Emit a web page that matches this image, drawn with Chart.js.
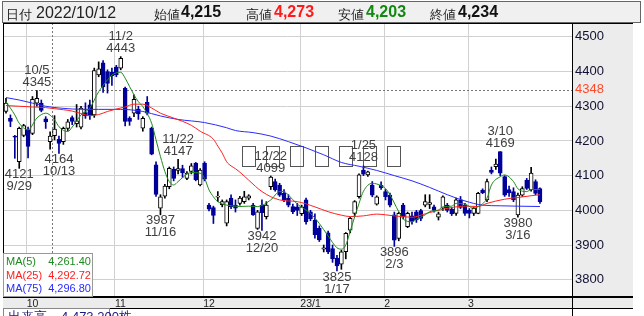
<!DOCTYPE html>
<html><head><meta charset="utf-8">
<script src="https://cdn.jsdelivr.net/npm/chart.js@4.4.0/dist/chart.umd.min.js"></script>
<style>
html,body{margin:0;padding:0;background:#fff;}
#wrap{position:relative;width:644px;height:316px;overflow:hidden;font-family:'Liberation Sans',Arial,sans-serif;}
#c{position:absolute;left:0;top:0;}
#hdr{position:absolute;left:2px;top:1px;width:637px;height:20px;border:1px solid #666;background:#f0f0f0;}
#hdr span{position:absolute;white-space:nowrap;}
.lab{top:4px;font-size:13px;color:#222;}
.dt{top:2px;font-size:16px;color:#222;}
.val{top:1px;font-size:16px;font-weight:bold;color:#111;}
#leg{position:absolute;left:3px;top:253px;width:88px;height:42px;background:#fff;border:1px solid #999;font-size:11px;}
#leg div{position:absolute;left:2px;right:1px;height:13px;line-height:13px;}
#leg .v{position:absolute;right:0;}
#vol{position:absolute;left:3px;top:308px;width:105px;height:14px;border:1px solid #888;background:#fff;font-size:13px;color:#1a1a7a;line-height:16px;white-space:nowrap;}
</style></head>
<body><div id="wrap">
<canvas id="c" width="644" height="316"></canvas>
<div id="hdr"></div>
<div id="leg"></div>
<div id="vol"></div>
</div>
<script>
const dates = ['9/26','9/27','9/28','9/29','9/30',
'10/3','10/4','10/5','10/6','10/7','10/11','10/12','10/13','10/14','10/17','10/18','10/19','10/20','10/21','10/24','10/25','10/26','10/27','10/28','10/31',
'11/1','11/2','11/4','11/7','11/8','11/9','11/10','11/11','11/14','11/15','11/16','11/17','11/18','11/21','11/22','11/24','11/25','11/28','11/29','11/30',
'12/1','12/2','12/5','12/6','12/7','12/8','12/9','12/12','12/13','12/14','12/15','12/16','12/19','12/20','12/21','12/22','12/23','12/26','12/27','12/28','12/29','12/30',
'1/4','1/5','1/6','1/10','1/11','1/12','1/13','1/16','1/17','1/18','1/19','1/20','1/23','1/24','1/25','1/26','1/27','1/30','1/31',
'2/1','2/2','2/3','2/6','2/7','2/8','2/9','2/10','2/13','2/14','2/15','2/16','2/17','2/20','2/21','2/22','2/24','2/27','2/28',
'3/1','3/2','3/3','3/6','3/7','3/8','3/9','3/10','3/13','3/14','3/15','3/16','3/17','3/20','3/22','3/23','3/24'];

const open  = [4285,4265,4212,4140,4216,4232,4222,4309,4309,4264,4198,4215,4205,4198,4236,4267,4250,4240,4282,4304,4275,4390,4425,4400,4398,
4413,4410,4352,4266,4280,4292,4237,4311,4237,4131,4006,4041,4068,4118,4115,4120,4092,4112,4136,4073,
4136,4015,4008,4038,4016,3963,4035,4015,4020,4025,4035,4015,3948,4015,3982,4068,4083,4073,4049,4035,4011,4010,
3990,4030,3996,3972,3948,3888,3935,3890,3862,3845,3881,3943,3991,4039,4116,4102,4073,4018,4072,
4054,4044,3987,3919,4015,3953,3984,3996,3999,4015,4017,4010,3980,4006,4015,4003,3991,4030,4015,
4000,3991,3991,4058,4030,4116,4126,4169,4097,4060,4054,3987,4044,4087,4059,4083,4063];
const high  = [4323,4275,4216,4240,4248,4240,4328,4345,4318,4270,4226,4273,4214,4240,4262,4272,4305,4300,4310,4318,4410,4428,4432,4405,4410,
4418,4443,4355,4270,4333,4300,4270,4328,4240,4140,4045,4075,4125,4125,4147,4130,4112,4135,4138,4120,
4140,4020,4012,4054,4030,4030,4045,4030,4040,4055,4045,4020,4000,4030,4025,4099,4090,4078,4060,4045,4018,4020,
4015,4035,4000,3990,3955,3900,3940,3900,3870,3885,3936,3980,4028,4105,4128,4113,4083,4042,4082,
4060,4050,3995,3995,4020,3995,3995,4000,4003,4045,4045,4015,3995,4042,4020,4008,4035,4040,4020,
4005,4008,4052,4062,4090,4125,4148,4169,4100,4070,4065,4050,4068,4092,4124,4088,4065];
const low   = [4280,4241,4150,4121,4212,4151,4218,4300,4284,4236,4176,4203,4164,4190,4230,4247,4240,4235,4265,4262,4268,4385,4340,4338,4360,
4385,4405,4243,4245,4270,4262,4228,4275,4160,4040,3987,4035,4062,4085,4105,4095,4088,4105,4085,4070,
4085,3998,3962,4025,4010,3955,4005,3995,4015,4020,4030,3985,3945,3942,3975,4060,4055,4040,4025,4010,3990,3985,
3985,3960,3970,3920,3910,3880,3875,3850,3825,3830,3860,3935,3985,4035,4100,4098,4039,4015,4060,
4030,4010,3896,3912,3975,3950,3960,3965,3970,4010,4005,3995,3972,4000,3995,3985,3985,4005,3985,
3978,3985,3990,4048,4025,4105,4118,4100,4040,4040,4025,3980,4040,4060,4055,4045,4020];
const close = [4309,4256,4211,4236,4244,4184,4320,4323,4288,4255,4214,4234,4193,4236,4255,4256,4258,4295,4272,4272,4403,4408,4356,4366,4388,
4390,4438,4256,4256,4320,4278,4265,4280,4162,4046,4039,4070,4121,4092,4120,4108,4107,4128,4088,4116,
4090,4003,3985,4040,4025,4025,4010,4006,4035,4039,4042,3987,3996,3993,4015,4096,4059,4044,4030,4015,3996,4000,
4010,3967,3975,3930,3915,3892,3880,3860,3840,3880,3934,3977,4025,4102,4104,4111,4044,4039,4065,
4039,4015,3914,3991,3982,3991,3968,3972,3977,4025,4022,4000,3990,4039,4000,3990,4030,4008,3991,
3991,4006,4049,4051,4083,4109,4133,4107,4044,4050,4030,4044,4063,4063,4107,4049,4025];

// moving averages at the listed candle indices
const ma5Idx = [0,2,3,5,7,9,11,12,14,15,17,19,21,23,24,26,27,28,29,30,31,33,34,35,36,37,38,39,41,42,44,45,46,47,48,50,52,53,55,57,60,62,63,64,66,69,71,73,75,76,77,78,80,81,83,84,86,87,89,90,92,93,95,96,98,99,101,102,104,106,107,109,110,112,113,115,116,118,119,121];
const ma5Val = [4313,4275,4251,4232,4266,4280,4261,4241,4227,4240,4275,4295,4342,4376,4390,4398,4381,4357,4333,4313,4299,4251,4203,4155,4112,4083,4073,4083,4104,4109,4107,4092,4059,4039,4025,4015,4012,4011,4012,4011,4030,4054,4054,4044,4018,3991,3962,3926,3892,3888,3900,3940,4020,4055,4078,4076,4063,4045,3996,3975,3967,3974,3987,3996,4001,4010,4012,4020,4018,4006,4011,4035,4073,4097,4102,4083,4062,4054,4060,4060];
const ma25Idx = [0,3,6,9,11,13,15,17,19,21,23,25,27,29,31,33,35,38,42,44,47,48,49,50,51,52,53,55,58,62,66,70,73,76,78,81,84,88,92,95,99,104,107,109,113,116,119,121];
const ma25Val = [4302,4300,4298,4296,4293,4290,4286,4279,4273,4276,4285,4292,4298,4306,4306,4295,4280,4266,4245,4228,4205,4185,4165,4140,4128,4120,4110,4087,4054,4030,4025,4010,3996,3986,3982,3984,3989,3984,3980,3990,4003,4012,4011,4020,4032,4037,4042,4045];
const ma75Idx = [0,3,6,9,12,15,18,21,26,31,35,39,45,50,52,56,60,64,68,72,76,80,84,88,92,96,100,104,108,112,116,121];
const ma75Val = [4325,4318,4309,4300,4295,4292,4291,4291,4291,4285,4272,4262,4253,4238,4230,4224,4214,4198,4180,4160,4138,4127,4115,4100,4085,4066,4045,4027,4015,4013,4012,4011];

const maNames = ['MA(5)','MA(25)','MA(75)'];
const maLegendVals = [4261.40, 4292.72, 4296.80];
const maColors = ['#1e8a1e','#ff2020','#2a2aff'];

const monthIdx = [5,25,45,67,86,105];
const monthLabels = ['10','11','12','23/1','2','3'];
const yTicks = [3800,3900,4000,4100,4200,4300,4400,4500];
const refPrice = 4348;
const cursorIdx = 11;
const headerDate = '2022/10/12';
const volume = 4473200;

const annIdx   = [3,7,12,26,35,39,58,60,75,81,88,112,116];
const annKind  = ['L','H','L','H','L','H','L','H','L','H','L','H','L'];
const annDate  = ['9/29','10/5','10/13','11/2','11/16','11/22','12/20','12/22','1/17','1/25','2/3','3/10','3/16'];
const annPrice = [4121,4345,4164,4443,3987,4147,3942,4099,3825,4128,3896,4169,3980];

// ---------- html parts ----------
const fmt = v => v.toLocaleString('en-US');
const hdr = document.getElementById('hdr');
const hItems = [
  ['日付','lab',3,null],[headerDate,'dt',33,null],
  ['始値','lab',151,null],[fmt(open[cursorIdx]),'val',178,'#111'],
  ['高値','lab',243,null],[fmt(high[cursorIdx]),'val',271,'#ff1a1a'],
  ['安値','lab',335,null],[fmt(low[cursorIdx]),'val',363,'#118811'],
  ['終値','lab',427,null],[fmt(close[cursorIdx]),'val',455,'#111']
];
hItems.forEach(([t,c,l,col])=>{const s=document.createElement('span');s.className=c;s.textContent=t;s.style.left=l+'px';if(col)s.style.color=col;hdr.appendChild(s);});
const leg = document.getElementById('leg');
maNames.forEach((n,k)=>{const d=document.createElement('div');d.style.top=(1+k*13.5)+'px';d.style.color=maColors[k];
  d.innerHTML='<span>'+n+'</span><span class="v">'+maLegendVals[k].toLocaleString('en-US',{minimumFractionDigits:2})+'</span>';leg.appendChild(d);});
document.getElementById('vol').innerHTML='&nbsp;出来高&nbsp;&nbsp;&nbsp;&nbsp;'+fmt(volume)+'株';

// ---------- chart ----------
const UP_BODY='#ffffff', UP_LINE='#000000', DN='#00009a';
const isUp = i => close[i] >= open[i];
const wickData = dates.map((d,i)=>({x:i,y:[low[i],high[i]]}));
const bodyData = dates.map((d,i)=>({x:i,y:[open[i],close[i]]}));
const pts = (idx,val)=>idx.map((ix,k)=>({x:ix,y:val[k]}));

const deco = {
  id:'deco',
  beforeDraw(chart){
    const {ctx, chartArea:a} = chart;
    ctx.save();
    ctx.fillStyle='#ececec';
    ctx.fillRect(a.right, a.top, 633-a.right, a.bottom-a.top);
    ctx.fillRect(a.left, a.bottom, 633-a.left, 12);
    ctx.restore();
  },
  beforeDatasetsDraw(chart){
    const {ctx, chartArea:a, scales:{x,y}} = chart;
    ctx.save();
    ctx.strokeStyle='#777'; ctx.lineWidth=1; ctx.setLineDash([2,2]);
    const yr = Math.round(y.getPixelForValue(refPrice))+0.5;
    ctx.beginPath(); ctx.moveTo(a.left,yr); ctx.lineTo(a.right,yr); ctx.stroke();
    const xc = Math.round(x.getPixelForValue(cursorIdx-0.5))+0.5;
    ctx.beginPath(); ctx.moveTo(xc,a.top); ctx.lineTo(xc,a.bottom); ctx.stroke();
    ctx.setLineDash([]);
    // watermark glyph boxes
    ctx.strokeStyle='#555';
    for(let k=0;k<7;k++){ ctx.strokeRect(Math.round(242+k*24.2)+0.5,146.5,13,20); }
    ctx.restore();
  },
  afterDatasetsDraw(chart){
    const {ctx, scales:{x,y}} = chart;
    ctx.save();
    ctx.font='13px "Liberation Sans", Arial, sans-serif';
    ctx.fillStyle='#404040'; ctx.textAlign='center'; ctx.textBaseline='middle';
    annIdx.forEach((ix,k)=>{
      const px=x.getPixelForValue(ix);
      if(annKind[k]==='H'){
        const py=y.getPixelForValue(high[ix]);
        ctx.fillText(String(annPrice[k]),px,py-8);
        ctx.fillText(annDate[k],px,py-20);
      } else {
        const py=y.getPixelForValue(low[ix]);
        ctx.fillText(String(annPrice[k]),px,py+6);
        ctx.fillText(annDate[k],px,py+18);
      }
    });
    ctx.restore();
  },
  afterDraw(chart){
    const {ctx, chartArea:a} = chart;
    ctx.save();
    ctx.strokeStyle='#000'; ctx.lineWidth=1;
    ctx.beginPath();
    ctx.moveTo(a.left+0.5,a.top); ctx.lineTo(a.left+0.5,a.bottom);
    ctx.moveTo(a.left,a.top+0.5); ctx.lineTo(633,a.top+0.5);
    ctx.moveTo(a.right+0.5,a.top); ctx.lineTo(a.right+0.5,316);
    ctx.moveTo(a.left,a.bottom+12.5); ctx.lineTo(633,a.bottom+12.5);
    ctx.stroke();
    ctx.lineWidth=2;
    ctx.beginPath(); ctx.moveTo(a.left,a.bottom+1); ctx.lineTo(633,a.bottom+1); ctx.stroke();
    ctx.restore();
  }
};

new Chart(document.getElementById('c'),{
  type:'bar',
  data:{datasets:[
    {type:'line',label:maNames[0],data:pts(ma5Idx,ma5Val),borderColor:maColors[0],borderWidth:1,pointRadius:0,cubicInterpolationMode:'monotone',order:0},
    {type:'line',label:maNames[1],data:pts(ma25Idx,ma25Val),borderColor:maColors[1],borderWidth:1,pointRadius:0,cubicInterpolationMode:'monotone',order:0},
    {type:'line',label:maNames[2],data:pts(ma75Idx,ma75Val),borderColor:maColors[2],borderWidth:1,pointRadius:0,cubicInterpolationMode:'monotone',order:0},
    {label:'body',data:bodyData,barThickness:4,minBarLength:1,grouped:false,borderSkipped:false,borderWidth:1,
      backgroundColor:bodyData.map((d,i)=>isUp(i)?UP_BODY:DN),borderColor:bodyData.map((d,i)=>isUp(i)?UP_LINE:DN),order:1},
    {label:'wick',data:wickData,barThickness:1,grouped:false,borderWidth:0,
      backgroundColor:wickData.map((d,i)=>isUp(i)?UP_LINE:DN),order:2}
  ]},
  options:{
    responsive:false, animation:false,
    layout:{padding:{left:3,top:23,right:11,bottom:8}},
    plugins:{legend:{display:false},tooltip:{enabled:false}},
    scales:{
      x:{type:'linear',min:-0.68,max:128.26,offset:false,
        grid:{color:'#d0d0d0',offset:false,drawTicks:false},border:{display:false},
        afterBuildTicks:s=>{s.ticks=monthIdx.map(v=>({value:v-0.3}));},
        afterFit:s=>{s.height=12;},
        ticks:{autoSkip:false,maxRotation:0,align:'start',padding:2,color:'#222',font:{size:10.5},
          callback:(v,k)=>monthLabels[k]}
      },
      y:{position:'right',min:3753,max:4540,
        grid:{drawTicks:false,color:c=>(c.tick&&c.tick.value===refPrice)?'rgba(0,0,0,0)':'#d0d0d0'},border:{display:false},
        afterBuildTicks:s=>{s.ticks=yTicks.concat([refPrice]).map(v=>({value:v}));},
        afterFit:s=>{s.width=61;},
        ticks:{autoSkip:false,padding:3,font:{size:13},color:c=>(c.tick&&c.tick.value===refPrice)?'#ff4a2a':'#101030',
          callback:v=>String(v)}
      }
    }
  },
  plugins:[deco]
});
</script></body></html>
